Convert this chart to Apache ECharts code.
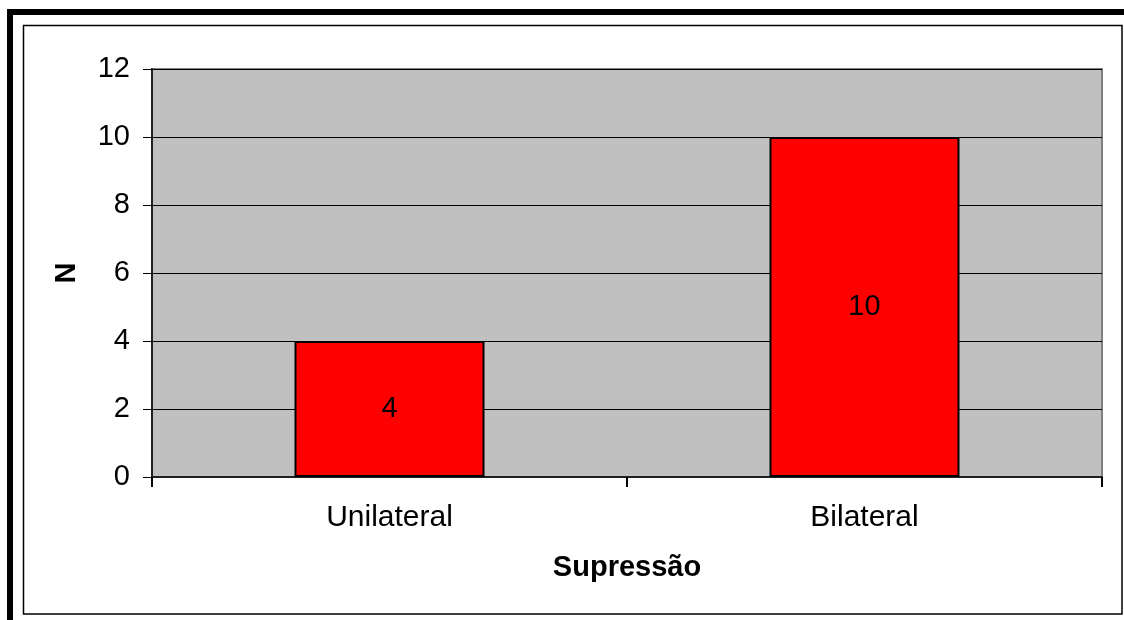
<!DOCTYPE html>
<html>
<head>
<meta charset="utf-8">
<style>
  html, body { margin: 0; padding: 0; background: #ffffff; }
  #chart { width: 1124px; height: 620px; }
</style>
<script src="https://cdn.jsdelivr.net/npm/echarts@6/dist/echarts.min.js"></script>
</head>
<body>
<div id="chart"></div>
<script>
// Categories and counts
const categories = ['Unilateral', 'Bilateral'];
const counts = [4, 10];
const yMin = 0;
const yMax = 12;
const yStep = 2;
const xTitle = 'Supressão';
const yTitle = 'N';

const FONT = '"Liberation Sans", Arial, sans-serif';

const chart = echarts.init(document.getElementById('chart'), null, { renderer: 'canvas' });

chart.setOption({
  backgroundColor: '#ffffff',
  animation: false,
  textStyle: { fontFamily: FONT, color: '#000' },
  grid: {
    left: 152, top: 69, right: 22, bottom: 143,
    show: true,
    backgroundColor: '#c0c0c0',
    borderColor: '#808080',
    borderWidth: 2
  },
  graphic: [
    // heavy frame along the top and left edge
    { type: 'rect', silent: true, z: 100,
      shape: { x: 7, y: 9, width: 1117, height: 6 },
      style: { fill: '#000' } },
    { type: 'rect', silent: true, z: 100,
      shape: { x: 7, y: 9, width: 6, height: 611 },
      style: { fill: '#000' } },
    // thin frame around the chart area
    { type: 'rect', silent: true, z: 100,
      shape: { x: 23.5, y: 25.5, width: 1098.5, height: 588.5 },
      style: { fill: 'none', stroke: '#000', lineWidth: 1.5 } }
  ],
  xAxis: {
    type: 'category',
    data: categories,
    boundaryGap: true,
    name: xTitle,
    nameLocation: 'middle',
    nameGap: 76,
    nameTextStyle: { fontFamily: FONT, fontSize: 29, fontWeight: 'bold', color: '#000' },
    axisLine: { show: true, lineStyle: { color: '#202020', width: 2 } },
    axisTick: { show: true, alignWithLabel: false, length: 10, lineStyle: { color: '#000', width: 2 } },
    axisLabel: { fontFamily: FONT, fontSize: 30, color: '#000', margin: 26 },
    splitLine: { show: false }
  },
  yAxis: {
    type: 'value',
    min: yMin,
    max: yMax,
    interval: yStep,
    name: yTitle,
    nameLocation: 'middle',
    nameGap: 71,
    nameRotate: 90,
    nameTextStyle: { fontFamily: FONT, fontSize: 29, fontWeight: 'bold', color: '#000' },
    axisLine: { show: true, lineStyle: { color: '#202020', width: 2 } },
    axisTick: { show: true, length: 9, lineStyle: { color: '#000', width: 1 } },
    axisLabel: { fontFamily: FONT, fontSize: 29, color: '#000', margin: 22 },
    splitLine: { show: true, lineStyle: { color: '#000', width: 1 } }
  },
  series: [{
    type: 'bar',
    data: counts,
    barWidth: '40%',
    itemStyle: { color: '#ff0000', borderColor: '#000', borderWidth: 2 },
    label: {
      show: true,
      position: 'inside',
      fontFamily: FONT,
      fontSize: 29,
      color: '#000'
    }
  }]
});
</script>
</body>
</html>
